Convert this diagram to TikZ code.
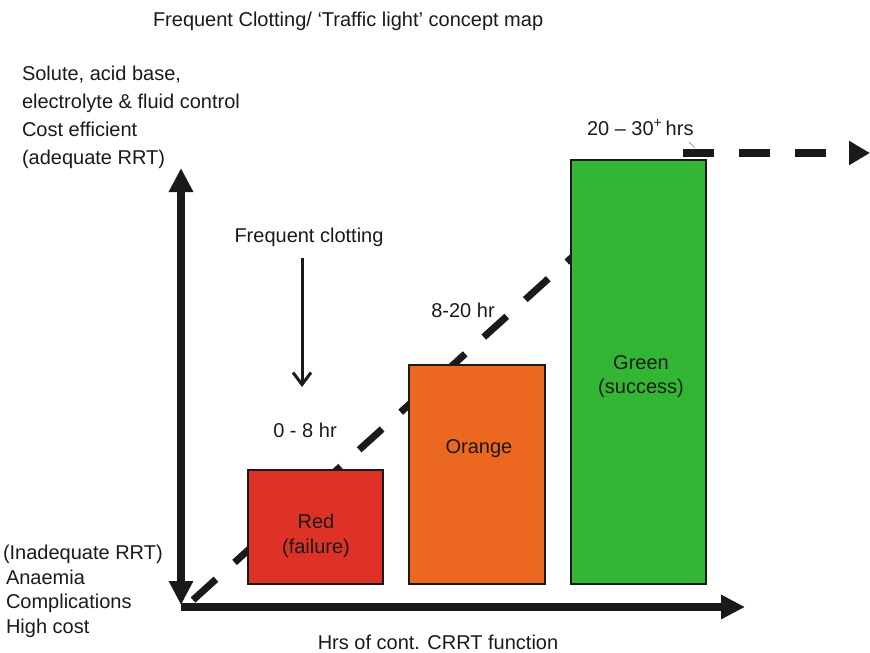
\documentclass[tikz,border=0pt]{standalone}
\usepackage{fontspec}
\setmainfont{Liberation Sans}
\usetikzlibrary{arrows.meta}
\definecolor{ink}{HTML}{1A1A1A}
\definecolor{failred}{HTML}{DE3226}
\definecolor{warnorange}{HTML}{EC6720}
\definecolor{okgreen}{HTML}{33B633}

\begin{document}
\begin{tikzpicture}[x=1pt,y=-1pt,
  every node/.style={inner sep=0pt, outer sep=0pt, text=ink,
    font=\fontsize{20}{24}\selectfont},
  lbl/.style={anchor=base west},
  clbl/.style={anchor=base},
  bar/.style={draw=ink, line width=2pt, anchor=north west},
  axis/.style={draw=ink, line width=8pt},
  bigtip/.tip={Triangle[length=24pt,width=23pt]},
  trend/.style={draw=ink, line width=7pt, dash pattern=on 31pt off 25pt},
]
\useasboundingbox (0,0) rectangle (870,653);

% title
\node[lbl] (title) at (153,27) {Frequent Clotting/ `Traffic light' concept map};

% axis end points
\coordinate (ytop) at (181,168);
\coordinate (ybot) at (181,605);
\coordinate (origin) at (181,607);
\coordinate (xend) at (745,607);

% rising trend line, passing behind the bars
\coordinate (trendstart) at (193,600);
\coordinate (trendend) at (600,232);
\draw[trend] (trendstart) -- (trendend);

% bars
\node[bar, fill=failred, minimum width=135pt, minimum height=114pt] (red) at (248,470) {};
\node[bar, fill=warnorange, minimum width=136pt, minimum height=219pt] (orange) at (409,365) {};
\node[bar, fill=okgreen, minimum width=135pt, minimum height=424pt] (green) at (571,160) {};

\node[clbl] (redtxt1) at (316,528) {Red};
\node[clbl] (redtxt2) at (316,553) {(failure)};
\node[clbl] (orangetxt) at (479,453) {Orange};
\node[clbl] (greentxt1) at (641,369) {Green};
\node[clbl] (greentxt2) at (641,393) {(success)};

% period labels
\node[clbl] (p1) at (305,437) {0 - 8 hr};
\node[clbl] (p2) at (463,317) {8-20 hr};
\node[lbl] (p3) at (587,135) {20 -- 30\textsuperscript{+}\,hrs};

% continuation arrow
\coordinate (contstart) at (683,153);
\coordinate (contend) at (870,153);
\draw[trend, line width=8pt, -{Triangle[length=21pt,width=23pt]}] (contstart) -- (contend);
\coordinate (lead1) at (689,142);
\coordinate (lead2) at (695,148);
\draw[ink!60, line width=0.5pt] (lead1) -- (lead2);

% frequent clotting marker
\node[clbl] (clot) at (309,242) {Frequent clotting};
\coordinate (clottop) at (302,258);
\coordinate (clotbot) at (302,387);
\draw[ink, line width=3pt, -{Straight Barb[length=12pt,width=18pt]}] (clottop) -- (clotbot);

% axes
\draw[axis, bigtip-bigtip] (ybot) -- (ytop);
\draw[axis, -bigtip] (origin) -- (xend);

% axis captions
\node[lbl] (t1) at (22,80) {Solute, acid base,};
\node[lbl] (t2) at (22,108) {electrolyte \& fluid control};
\node[lbl] (t3) at (22,136) {Cost efficient};
\node[lbl] (t4) at (22,164) {(adequate RRT)};

\node[lbl] (b1) at (3,559) {(Inadequate RRT)};
\node[lbl] (b2) at (6,584) {Anaemia};
\node[lbl] (b3) at (6,608) {Complications};
\node[lbl] (b4) at (6,633) {High cost};

\node[clbl] (xcap) at (438,649) {Hrs of cont. CRRT function};
\end{tikzpicture}
\end{document}
